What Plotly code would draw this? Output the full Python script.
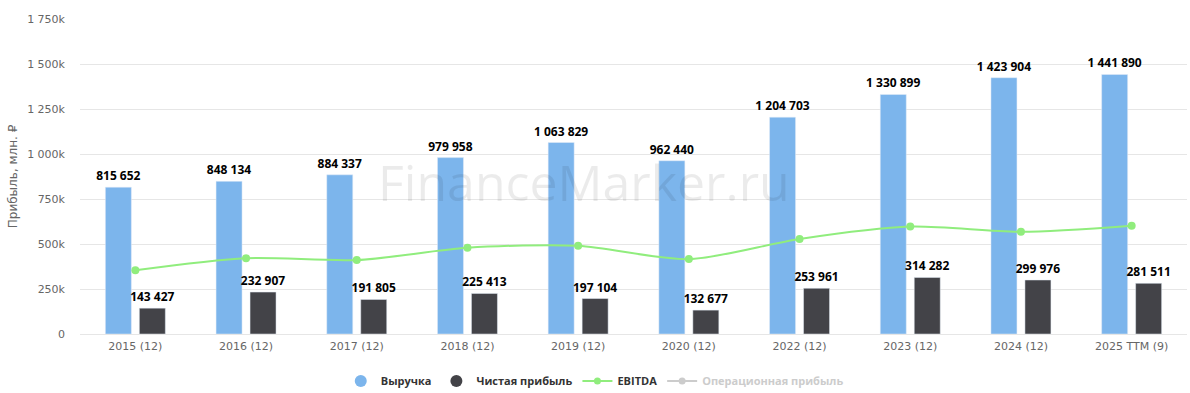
import plotly.graph_objects as go

categories = ["2015 (12)", "2016 (12)", "2017 (12)", "2018 (12)", "2019 (12)",
              "2020 (12)", "2022 (12)", "2023 (12)", "2024 (12)", "2025 TTM (9)"]
revenue = [815652, 848134, 884337, 979958, 1063829, 962440, 1204703, 1330899, 1423904, 1441890]
net_profit = [143427, 232907, 191805, 225413, 197104, 132677, 253961, 314282, 299976, 281511]
ebitda = [354000, 421000, 411000, 479000, 490000, 416000, 528000, 597000, 568000, 602000]
y_ticks = [0, 250000, 500000, 750000, 1000000, 1250000, 1500000, 1750000]
y_tick_labels = ["0", "250k", "500k", "750k", "1 000k", "1 250k", "1 500k", "1 750k"]

BLUE = "#7cb5ec"
DARK = "#434348"
GREEN = "#90ed7d"
FONT = "Open Sans"
AXFONT = "DejaVu Sans"


def fmt(v):
    return f"{v:,}".replace(",", " ")


fig = go.Figure()
fig.add_trace(go.Bar(
    x=categories, y=revenue, name="Выручка", marker_color=BLUE,
    text=[fmt(v) for v in revenue], textposition="outside",
    textfont=dict(family=FONT, size=12, color="#000000", weight="bold"),
    constraintext="none", cliponaxis=False, showlegend=False,
))
fig.add_trace(go.Bar(
    x=categories, y=net_profit, name="Чистая прибыль", marker_color=DARK,
    text=[fmt(v) for v in net_profit], textposition="outside",
    textfont=dict(family=FONT, size=12, color="#000000", weight="bold"),
    constraintext="none", cliponaxis=False, showlegend=False,
))
fig.add_trace(go.Scatter(
    x=categories, y=ebitda, name="EBITDA", mode="lines+markers",
    line=dict(color=GREEN, width=2, shape="spline", smoothing=0.8),
    marker=dict(color=GREEN, size=8, symbol="circle"), showlegend=False,
))

# legend entries
fig.add_trace(go.Scatter(x=[None], y=[None], mode="markers", name="Выручка",
                         marker=dict(color=BLUE, size=12, symbol="circle")))
fig.add_trace(go.Scatter(x=[None], y=[None], mode="markers", name="Чистая прибыль",
                         marker=dict(color=DARK, size=12, symbol="circle")))
fig.add_trace(go.Scatter(x=[None], y=[None], mode="lines+markers", name="EBITDA",
                         line=dict(color=GREEN, width=2),
                         marker=dict(color=GREEN, size=7)))
fig.add_trace(go.Scatter(x=[None], y=[None], mode="lines+markers",
                         name="<span style='color:#cccccc'>Операционная прибыль</span>",
                         line=dict(color="#cccccc", width=2),
                         marker=dict(color="#cccccc", size=7)))

fig.add_annotation(
    text="FinanceMarker.ru", xref="paper", yref="paper", x=0.455, y=0.483,
    showarrow=False, font=dict(family=FONT, size=50, color="rgba(0,0,0,0.08)"),
)

fig.update_layout(
    width=1190, height=393,
    margin=dict(l=80, r=3, t=19, b=59, autoexpand=False),
    paper_bgcolor="white", plot_bgcolor="white",
    barmode="group", bargap=0.386, bargroupgap=0.235,
    font=dict(family=AXFONT, size=11, color="#666666"),
    legend=dict(orientation="h", x=0.465, xanchor="center", y=-0.149, yanchor="middle",
                font=dict(family=FONT, size=11, color="#333333", weight="bold"),
                itemclick=False, itemdoubleclick=False),
    xaxis=dict(type="category", range=[-0.5, len(categories) - 0.5],
               showgrid=False, showline=True, linecolor="#e6e6e6",
               ticks="", automargin=False, ticklabelstandoff=2,
               tickfont=dict(family=AXFONT, size=11, color="#666666")),
    yaxis=dict(range=[0, 1750000], tickvals=y_ticks, ticktext=y_tick_labels,
               showgrid=True, gridcolor="#e6e6e6", zeroline=False, automargin=False,
               tickfont=dict(family=AXFONT, size=11, color="#666666"), ticklabelstandoff=14,
               title=dict(text="Прибыль, млн. ₽",
                          font=dict(family=AXFONT, size=12, color="#666666"),
                          standoff=6)),
)

fig.write_html("out.html", config={"displayModeBar": False},
               post_script="document.body.style.margin='0';document.body.style.overflow='hidden';")
